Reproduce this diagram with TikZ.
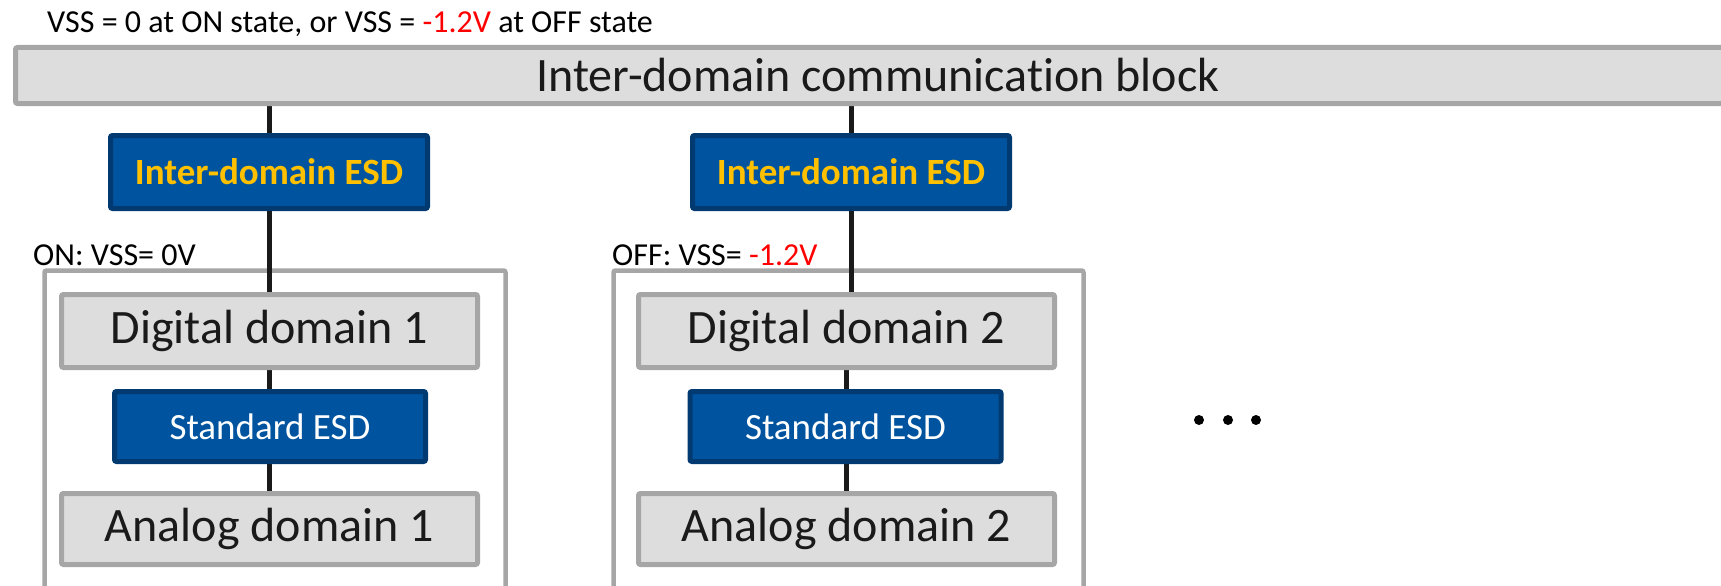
\documentclass[tikz,border=0pt]{standalone}
\usepackage{fontspec}
\setmainfont[Ligatures=NoCommon]{Carlito}
\usetikzlibrary{backgrounds}
\definecolor{esdblue}{RGB}{0,84,159}
\definecolor{esdborder}{RGB}{0,58,112}
\definecolor{esdyellow}{RGB}{255,192,0}
\definecolor{boxgray}{RGB}{221,221,221}
\definecolor{bordergray}{RGB}{166,166,166}
\definecolor{txt}{RGB}{26,26,26}
\definecolor{wirecol}{RGB}{26,26,26}
\tikzset{
  graybox/.style={draw=bordergray, fill=boxgray, line width=5pt, rounded corners=2pt,
    text=txt, inner sep=0pt, font=\fontsize{48}{58}\selectfont},
  esdbox/.style={draw=esdborder, fill=esdblue, line width=5pt, rounded corners=2pt, inner sep=0pt},
  iesdbox/.style={esdbox, minimum width=317pt, minimum height=73pt, text=esdyellow,
    font=\fontsize{37}{44}\selectfont\bfseries},
  stdesdbox/.style={esdbox, minimum width=311pt, minimum height=70pt, text=white,
    font=\fontsize{37}{44}\selectfont},
  domainbox/.style={graybox, minimum width=416pt, minimum height=73pt},
  outerbox/.style={draw=bordergray, line width=4.5pt, rounded corners=2pt},
  wire/.style={draw=wirecol, line width=5pt},
  notetext/.style={anchor=west, inner sep=0pt, text=black, font=\fontsize{32}{38}\selectfont},
  dotnode/.style={circle, fill=black, inner sep=0pt, minimum size=10pt}
}
\begin{document}
\begin{tikzpicture}[x=1pt, y=-1pt]
\useasboundingbox (0,0) rectangle (1721,586);
\clip (0,0) rectangle (1721,586);

\node[notetext] (topnote) at (47,24) {VSS = 0 at ON state, or VSS = \textcolor{red}{-1.2V} at OFF state};
\node[graybox, minimum width=1725pt, minimum height=56pt] (top) at (878,75.5) {Inter-domain communication block};

\node[iesdbox] (iesd1) at (269,172) {Inter-domain ESD};
\node[iesdbox] (iesd2) at (851,172) {Inter-domain ESD};

\node[notetext] (on) at (33,255) {ON: VSS= 0V};
\node[notetext] (off) at (612,255) {OFF: VSS= \textcolor{red}{-1.2V}};

\node[domainbox] (dig1) at (269.5,331) {Digital domain 1};
\node[stdesdbox] (std1) at (270,426.5) {Standard ESD};
\node[domainbox, minimum height=71pt] (ana1) at (269.5,529) {Analog domain 1};

\node[domainbox] (dig2) at (846.5,331) {Digital domain 2};
\node[stdesdbox] (std2) at (845.5,426.5) {Standard ESD};
\node[domainbox, minimum height=71pt] (ana2) at (846.5,529) {Analog domain 2};

\node[dotnode] (d1) at (1199,420) {};
\node[dotnode] (d2) at (1228,420) {};
\node[dotnode] (d3) at (1256,420) {};

\begin{scope}[on background layer]
  \draw[outerbox] (44.5,270.5) rectangle (505.5,640);
  \draw[outerbox] (613.5,270.5) rectangle (1083.5,640);
\end{scope}
\begin{scope}[on background layer]
  \draw[wire] (top.south -| iesd1) -- (iesd1.north);
  \draw[wire] (iesd1.south) -- (dig1.north -| iesd1);
  \draw[wire] (dig1.south) -- (std1.north -| dig1);
  \draw[wire] (std1.south -| ana1) -- (ana1.north);
  \draw[wire] (top.south -| iesd2) -- (iesd2.north);
  \draw[wire] (iesd2.south) -- (dig2.north -| iesd2);
  \draw[wire] (dig2.south) -- (std2.north -| dig2);
  \draw[wire] (std2.south -| ana2) -- (ana2.north);
\end{scope}
\end{tikzpicture}
\end{document}
